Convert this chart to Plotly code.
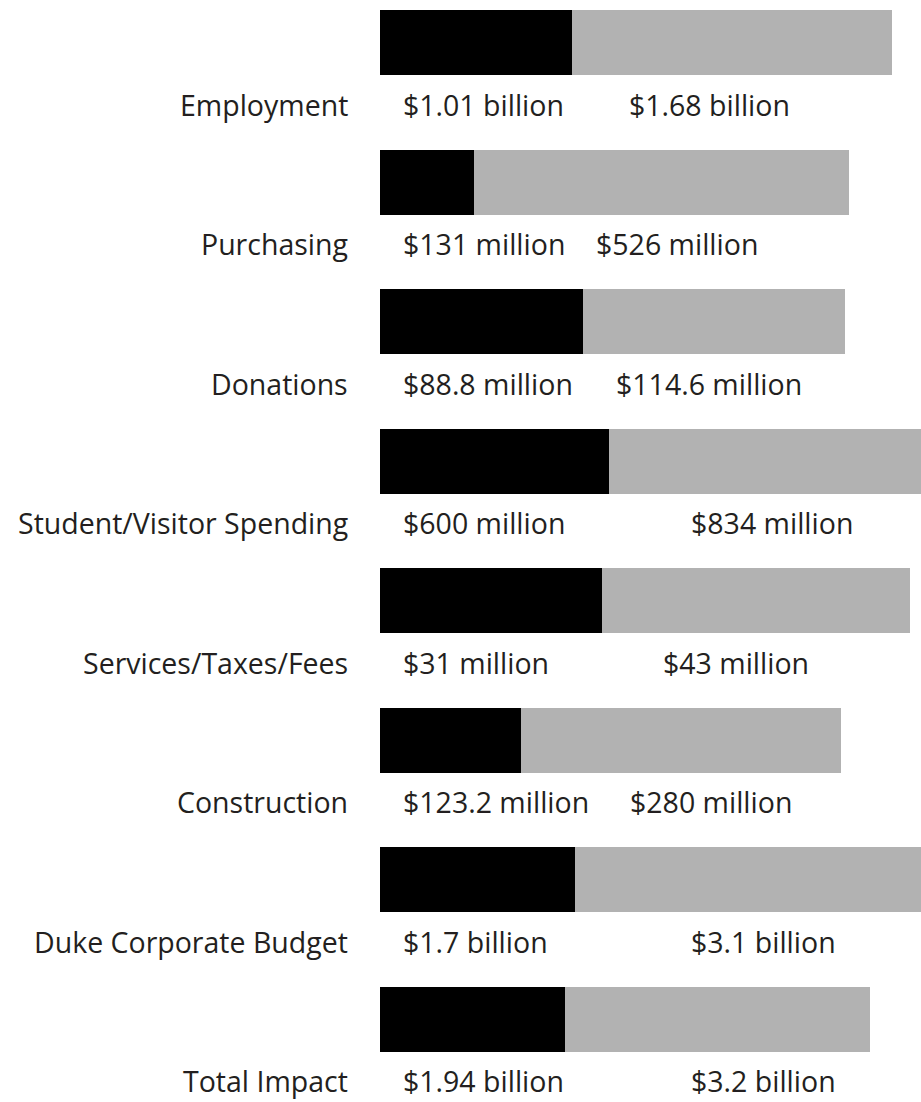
import plotly.graph_objects as go

# Economic impact by category: local (black) and total (gray) amounts
categories = [
    "Employment",
    "Purchasing",
    "Donations",
    "Student/Visitor Spending",
    "Services/Taxes/Fees",
    "Construction",
    "Duke Corporate Budget",
    "Total Impact",
]
local_values = [1.01, 131, 88.8, 600, 31, 123.2, 1.7, 1.94]
total_values = [1.68, 526, 114.6, 834, 43, 280, 3.1, 3.2]

local_labels = ["$1.01 billion", "$131 million", "$88.8 million", "$600 million",
                "$31 million", "$123.2 million", "$1.7 billion", "$1.94 billion"]
total_labels = ["$1.68 billion", "$526 million", "$114.6 million", "$834 million",
                "$43 million", "$280 million", "$3.1 billion", "$3.2 billion"]

# --- layout settings -------------------------------------------------------
W, H = 921, 1102
LEFT = 380                      # left edge of the bars
PLOT_W = W - LEFT
ROW_PITCH = 139.5               # vertical distance between rows (px)
FIRST_ROW = 42.5                # centre of the first bar (px)
BAR_PX = 65                     # bar thickness (px)
LABEL_DROP = 62                 # value labels sit this far below the bar centre
# each row has its own scale: pixel length of the full stacked bar
row_length_px = [512, 469, 465, 547, 530, 461, 551, 490]
# left edge of the gray value label in each row (px)
total_label_px = [629, 596, 616, 691, 663, 630, 691, 691]

FONT = "Open Sans"
TEXT_COLOR = "#231f20"
FS = 28.5

n = len(categories)
fig = go.Figure()

y_top = -FIRST_ROW / ROW_PITCH
y_bottom = (H - FIRST_ROW) / ROW_PITCH
bar_w = BAR_PX / ROW_PITCH

for i in range(n):
    ax = "x" if i == 0 else f"x{i + 1}"
    fig.add_trace(go.Bar(
        x=[local_values[i]], y=[i], orientation="h", xaxis=ax, yaxis="y",
        marker=dict(color="#000000", line=dict(width=0)), width=bar_w,
        hoverinfo="skip", showlegend=False,
    ))
    fig.add_trace(go.Bar(
        x=[total_values[i]], y=[i], base=[local_values[i]], orientation="h",
        xaxis=ax, yaxis="y",
        marker=dict(color="#b2b2b2", line=dict(width=0)), width=bar_w,
        hoverinfo="skip", showlegend=False,
    ))
    span = local_values[i] + total_values[i]
    axis_cfg = dict(
        domain=[0, 1], range=[0, span * PLOT_W / row_length_px[i]],
        visible=False, showgrid=False, zeroline=False, fixedrange=True,
    )
    if i == 0:
        fig.update_layout(xaxis=axis_cfg)
    else:
        axis_cfg.update(overlaying="x", anchor="y")
        fig.update_layout(**{f"xaxis{i + 1}": axis_cfg})

    label_font = dict(family=FONT, size=FS, color=TEXT_COLOR)
    # category name, right aligned left of the bars
    fig.add_annotation(
        text=categories[i], xref="paper", x=(350 - LEFT) / PLOT_W, xanchor="right",
        yref="y", y=i, yanchor="middle", yshift=-LABEL_DROP,
        showarrow=False, font=label_font,
    )
    fig.add_annotation(
        text=local_labels[i], xref="paper", x=(401 - LEFT) / PLOT_W, xanchor="left",
        yref="y", y=i, yanchor="middle", yshift=-LABEL_DROP,
        showarrow=False, font=label_font,
    )
    fig.add_annotation(
        text=total_labels[i], xref="paper", x=(total_label_px[i] - 2 - LEFT) / PLOT_W,
        xanchor="left",
        yref="y", y=i, yanchor="middle", yshift=-LABEL_DROP,
        showarrow=False, font=label_font,
    )

fig.update_layout(
    width=W, height=H,
    margin=dict(l=LEFT, r=0, t=0, b=0, pad=0),
    paper_bgcolor="white", plot_bgcolor="white",
    barmode="overlay", bargap=0,
    yaxis=dict(range=[y_bottom, y_top], visible=False, showgrid=False,
               zeroline=False, fixedrange=True, domain=[0, 1]),
    font=dict(family=FONT, size=FS, color=TEXT_COLOR),
)

fig.write_html("out.html", config={"displayModeBar": False})
